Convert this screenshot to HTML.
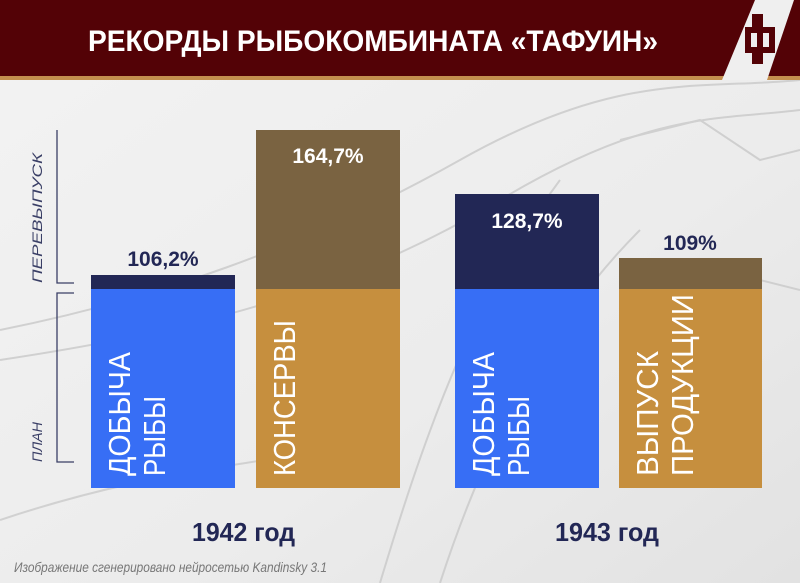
<!DOCTYPE html>
<html><head><meta charset="utf-8"><style>
html,body{margin:0;padding:0;width:800px;height:583px;overflow:hidden;background:#efefef}
svg{display:block}
</style></head><body>
<svg width="800" height="583" viewBox="0 0 800 583" xmlns="http://www.w3.org/2000/svg" font-family="Liberation Sans, sans-serif">
<defs>
<linearGradient id="bg" x1="0" y1="0" x2="1" y2="1">
<stop offset="0" stop-color="#f3f3f3"/><stop offset="0.6" stop-color="#ececec"/><stop offset="1" stop-color="#e2e2e2"/>
</linearGradient>
</defs>
<rect width="800" height="583" fill="url(#bg)"/>
<g stroke="#c9c9c9" stroke-width="2" fill="none" opacity="0.8">
<path d="M0 330 C150 300 300 250 460 160 S700 90 800 80"/>
<path d="M0 360 C200 330 350 290 500 200 S720 120 800 110"/>
<path d="M380 583 C420 450 470 300 560 180"/>
<path d="M440 583 C480 460 540 330 640 230"/>
<path d="M650 300 L720 270 L800 290"/>
<path d="M620 140 L700 120 L760 160 L800 150"/>
<path d="M0 520 C120 480 200 470 330 450"/>
</g>
<rect x="0" y="0" width="800" height="76" fill="#530206"/>
<rect x="0" y="76" width="800" height="4" fill="#c48f4f"/>
<polygon points="755,0 794,0 767,80 722,80" fill="#efefef"/>
<g fill="#530206">
<rect x="752" y="14" width="11" height="50"/>
<rect x="745" y="27" width="30" height="26"/>
</g>
<rect x="751" y="33" width="6" height="14" fill="#efefef"/>
<rect x="763" y="33" width="6" height="14" fill="#efefef"/>
<text x="88" y="51" font-size="30" font-weight="bold" fill="#fff" textLength="570" lengthAdjust="spacingAndGlyphs">РЕКОРДЫ РЫБОКОМБИНАТА «ТАФУИН»</text>

<g stroke="#3a3f66" stroke-width="1.3" fill="none">
<path d="M57 130 V283 H74"/>
<path d="M74 293 H57 V462 H74"/>
</g>
<text transform="translate(42,283) rotate(-90)" font-size="14" font-style="italic" fill="#3a3f66" textLength="130" lengthAdjust="spacingAndGlyphs">ПЕРЕВЫПУСК</text>
<text transform="translate(42,462) rotate(-90)" font-size="14" font-style="italic" fill="#3a3f66" textLength="40" lengthAdjust="spacingAndGlyphs">ПЛАН</text>

<rect x="91" y="275" width="144" height="14" fill="#222755"/>
<rect x="91" y="289" width="144" height="199" fill="#376ef5"/>
<rect x="256" y="130" width="144" height="159" fill="#7a6341"/>
<rect x="256" y="289" width="144" height="199" fill="#c68f3e"/>
<rect x="455" y="194" width="144" height="95" fill="#222755"/>
<rect x="455" y="289" width="144" height="199" fill="#376ef5"/>
<rect x="619" y="258" width="143" height="31" fill="#7a6341"/>
<rect x="619" y="289" width="143" height="199" fill="#c68f3e"/>

<g font-size="21" font-weight="bold" text-anchor="middle">
<text x="163" y="266" fill="#222755">106,2%</text>
<text x="328" y="163" fill="#fff">164,7%</text>
<text x="527" y="228" fill="#fff">128,7%</text>
<text x="690" y="250" fill="#222755">109%</text>
</g>

<g font-size="31" fill="#fff">
<text transform="translate(130,476) rotate(-90)" textLength="124" lengthAdjust="spacingAndGlyphs">ДОБЫЧА</text>
<text transform="translate(165,476) rotate(-90)" textLength="80" lengthAdjust="spacingAndGlyphs">РЫБЫ</text>
<text transform="translate(295,476) rotate(-90)" textLength="156" lengthAdjust="spacingAndGlyphs">КОНСЕРВЫ</text>
<text transform="translate(494,476) rotate(-90)" textLength="124" lengthAdjust="spacingAndGlyphs">ДОБЫЧА</text>
<text transform="translate(529,476) rotate(-90)" textLength="80" lengthAdjust="spacingAndGlyphs">РЫБЫ</text>
<text transform="translate(658,476) rotate(-90)" textLength="125" lengthAdjust="spacingAndGlyphs">ВЫПУСК</text>
<text transform="translate(693,476) rotate(-90)" textLength="182" lengthAdjust="spacingAndGlyphs">ПРОДУКЦИИ</text>
</g>

<g font-size="26" font-weight="bold" fill="#222755">
<text x="192" y="541" textLength="103" lengthAdjust="spacingAndGlyphs">1942 год</text>
<text x="555" y="541" textLength="104" lengthAdjust="spacingAndGlyphs">1943 год</text>
</g>
<text x="14" y="572" font-size="14" font-style="italic" fill="#777" textLength="313" lengthAdjust="spacingAndGlyphs">Изображение сгенерировано нейросетью Kandinsky 3.1</text>
</svg>
</body></html>
